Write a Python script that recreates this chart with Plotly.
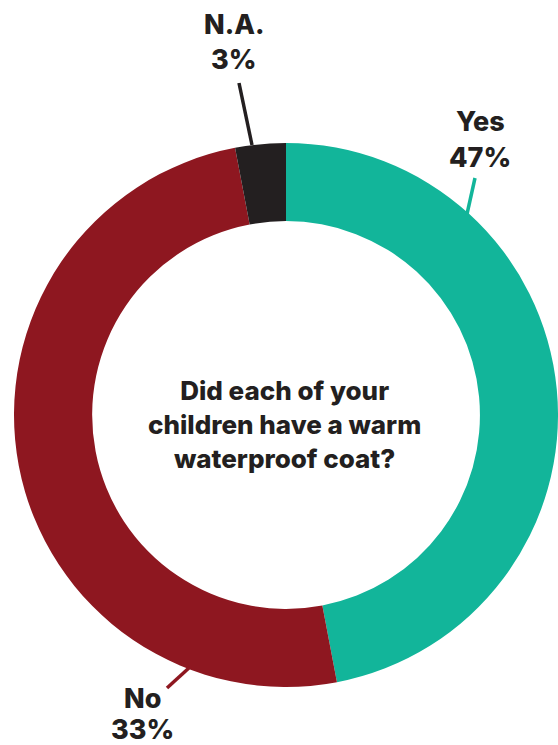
import plotly.graph_objects as go

W, H = 558, 745

categories = ["Yes", "No", "N.A."]
slice_values = [47, 50, 3]          # angular share as drawn
label_texts = ["47%", "33%", "3%"]  # percentages as printed
colors = ["#12b59a", "#8e1720", "#231f20"]
center_title = "Did each of your<br>children have a warm<br>waterproof coat?"

def px(x):
    return x / W

def py(y):
    return 1 - y / H

cx, cy, r = 286, 415, 272

fig = go.Figure(go.Pie(
    labels=categories,
    values=slice_values,
    sort=False,
    direction="clockwise",
    rotation=0,
    hole=0.713,
    marker=dict(colors=colors, line=dict(width=0)),
    textinfo="none",
    hoverinfo="label",
    showlegend=False,
    domain=dict(x=[px(cx - r), px(cx + r)], y=[py(cy + r), py(cy - r)]),
))

font_fam = "Inter, 'Noto Sans', sans-serif"
ann = []
label_pos = {"Yes": (480, 122, 157), "No": (142, 698, 729), "N.A.": (234, 25, 60)}
for cat, txt in zip(categories, label_texts):
    x, y1, y2 = label_pos[cat]
    ann.append(dict(x=px(x), y=py(y1), xref="paper", yref="paper", text=cat,
                    showarrow=False, font=dict(family=font_fam, size=27, color="#231f20", weight=800),
                    xanchor="center", yanchor="middle"))
    ann.append(dict(x=px(x), y=py(y2), xref="paper", yref="paper", text=txt,
                    showarrow=False, font=dict(family=font_fam, size=27, color="#231f20", weight=800),
                    xanchor="center", yanchor="middle"))

ann.append(dict(x=px(284), y=py(424), xref="paper", yref="paper", text=center_title,
                showarrow=False, font=dict(family=font_fam, size=26, color="#231f20", weight=800),
                xanchor="center", yanchor="middle", align="center"))

leaders = [((475, 178), (467, 214), colors[0]),
           ((190, 667), (167, 688), colors[1]),
           ((239, 83), (252, 145), colors[2])]
shapes = []
for (x0, y0), (x1, y1), c in leaders:
    shapes.append(dict(type="line", xref="paper", yref="paper",
                       x0=px(x0), y0=py(y0), x1=px(x1), y1=py(y1),
                       line=dict(color=c, width=3.5)))

fig.update_layout(
    width=W, height=H,
    margin=dict(l=0, r=0, t=0, b=0),
    paper_bgcolor="white", plot_bgcolor="white",
    annotations=ann, shapes=shapes,
)

fig.write_html(
    "out.html",
    config={"displayModeBar": False},
    post_script="document.body.style.margin='0';document.body.style.overflow='hidden';",
)
